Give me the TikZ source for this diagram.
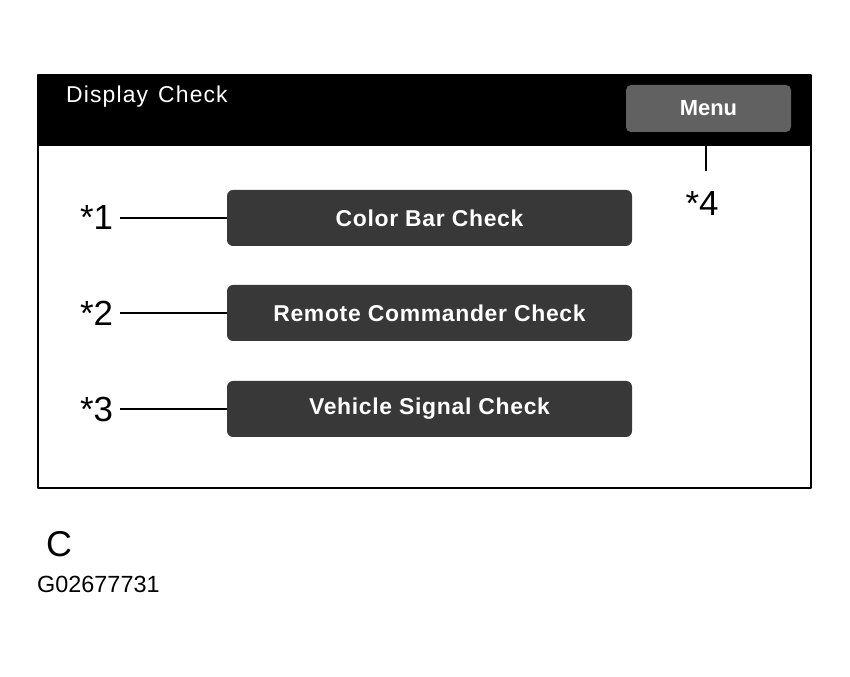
\documentclass[tikz,border=0pt]{standalone}
\usepackage{fontspec}
\setmainfont{Liberation Sans}
\begin{document}
\begin{tikzpicture}[line join=bevel,
  screen/.style={draw=black,line width=2bp},
  button/.style={fill=black!78,rounded corners=6bp,minimum width=405bp,minimum height=56bp,inner sep=0pt,text=white,font=\fontsize{23}{23}\selectfont\bfseries\addfontfeatures{LetterSpace=3}},
  menubutton/.style={fill=black!62,rounded corners=5bp,minimum width=165bp,minimum height=47bp,inner sep=0pt,text=white,font=\fontsize{22}{22}\selectfont\bfseries},
  star/.style={inner sep=0pt,outer sep=7bp,font=\fontsize{35}{35}\selectfont},
  lead/.style={black,line width=1.6bp}]
\useasboundingbox (0bp,0bp) rectangle (850bp,677bp);
%%
\fill [black] (37.5bp,531bp) rectangle (811bp,602bp);
\draw [screen] (37.5bp,189bp) rectangle (811bp,602bp);
\node (title) at (66bp,574bp) [anchor=base west,inner sep=0pt,text=white,font=\fontsize{23}{23}\selectfont\addfontfeatures{LetterSpace=5}] {Display\hspace{10bp}Check};
\node (menu) at (708.5bp,568.5bp) [menubutton] {Menu};
%
\node (btn_1) at (429.5bp,459bp) [button] {Color Bar Check};
  \node (btn_2) at (429.5bp,364bp) [button] {Remote Commander Check};
  \node (btn_3) at (429.5bp,268bp) [button] {Vehicle Signal Check};
%
\node (star_1) at (120bp,459bp) [star,anchor=east] {*1};
  \node (star_2) at (120bp,364bp) [star,anchor=east] {*2};
  \node (star_3) at (120bp,268bp) [star,anchor=east] {*3};
  \node (star_4) at (702bp,473bp) [star] {*4};
  \coordinate (tick_4) at (706bp,506bp);
%
\draw [lead] (star_1.east) -- (btn_1.west);
  \draw [lead] (star_2.east) -- (btn_2.west);
  \draw [lead] (star_3.east) -- (btn_3.west);
  \draw [lead] (menu.south -| tick_4) -- (tick_4);
%
\node (view) at (46bp,120bp) [anchor=base west,inner sep=0pt,font=\fontsize{36}{36}\selectfont] {C};
\node (code) at (37bp,84bp) [anchor=base west,inner sep=0pt,font=\fontsize{23.5}{23.5}\selectfont] {G02677731};
%
\end{tikzpicture}
\end{document}
